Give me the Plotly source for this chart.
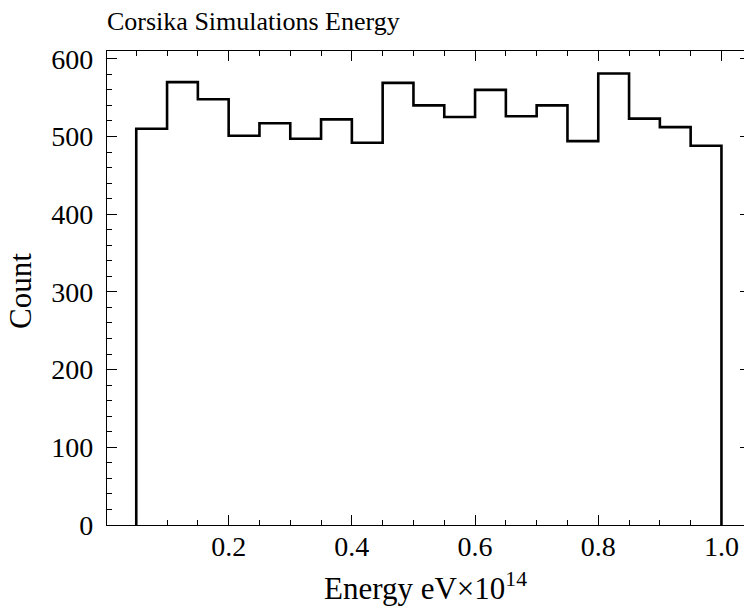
import plotly.graph_objects as go

# Histogram data (bin edges in units of 1e14 eV, counts per bin)
bin_edges = [0.05, 0.10, 0.15, 0.20, 0.25, 0.30, 0.35, 0.40, 0.45, 0.50,
             0.55, 0.60, 0.65, 0.70, 0.75, 0.80, 0.85, 0.90, 0.95, 1.00]
counts = [510, 570, 548, 501, 517, 497, 522, 492, 569, 540,
          525, 560, 526, 540, 494, 581, 523, 512, 488]

x_tick_vals = [0.2, 0.4, 0.6, 0.8, 1.0]
x_tick_text = ["0.2", "0.4", "0.6", "0.8", "1.0"]
y_tick_vals = [0, 100, 200, 300, 400, 500, 600]
y_tick_text = ["0", "100", "200", "300", "400", "500", "600"]

title_text = "Corsika Simulations Energy"
x_label = "Energy eV×10<sup>14</sup>"
y_label = "Count"

# step outline built from the histogram arrays
step_x = [bin_edges[0]] + bin_edges[:-1] + [bin_edges[-1], bin_edges[-1]]
step_y = [0] + counts + [counts[-1], 0]

FONT = "Liberation Serif"
W, H = 744, 606
ML, MT, MB = 107, 51, 81
PW, PH = W - ML, H - MT - MB

fig = go.Figure()
fig.add_trace(go.Scatter(x=step_x, y=step_y, mode="lines", line_shape="hv",
                         line=dict(color="black", width=2.6),
                         showlegend=False, hoverinfo="skip"))
fig.add_trace(go.Scatter(x=[0.5], y=[0], yaxis="y2", mode="markers",
                         marker=dict(opacity=0), showlegend=False,
                         hoverinfo="skip"))

fig.update_layout(
    width=W, height=H,
    margin=dict(l=ML, r=0, t=MT, b=MB, autoexpand=False),
    paper_bgcolor="white", plot_bgcolor="white",
    font=dict(family=FONT, size=28, color="black"),
    title=dict(text=title_text, x=0, xref="paper", xanchor="left",
               y=1 - 21 / H, yanchor="middle", yref="container",
               font=dict(family=FONT, size=26, color="black")),
    xaxis=dict(range=[0.0025, 1.0366], tickvals=x_tick_vals, ticktext=x_tick_text,
               ticks="inside", ticklen=10, tickwidth=1.3, tickcolor="black",
               showline=True, linewidth=1.3, linecolor="black", mirror="ticks",
               showgrid=False, zeroline=False, ticklabelstandoff=-4,
               tickfont=dict(family=FONT, size=28),
               minor=dict(dtick=0.05, tick0=0, ticks="inside", ticklen=5,
                          tickwidth=1.1, tickcolor="black", showgrid=False)),
    yaxis=dict(range=[0, 610], tickvals=y_tick_vals, ticktext=y_tick_text,
               ticks="inside", ticklen=10, tickwidth=1.3, tickcolor="black",
               showline=True, linewidth=1.3, linecolor="black", mirror=False,
               showgrid=False, zeroline=False, ticklabelstandoff=7,
               tickfont=dict(family=FONT, size=28),
               minor=dict(dtick=20, tick0=0, ticks="inside", ticklen=5,
                          tickwidth=1.1, tickcolor="black", showgrid=False)),
    yaxis2=dict(range=[0, 610], overlaying="y", side="right",
                tickvals=y_tick_vals, ticks="inside", ticklen=4, tickwidth=1.3,
                tickcolor="black", showticklabels=False, showline=False,
                showgrid=False, zeroline=False),
    annotations=[
        dict(text=x_label, xref="paper", yref="paper",
             x=0.5, y=(H - MB - 586) / PH, xanchor="center", yanchor="middle",
             showarrow=False, font=dict(family=FONT, size=31, color="black")),
        dict(text=y_label, xref="paper", yref="paper", textangle=-90,
             x=(20 - ML) / PW, y=(H - MB - 291) / PH, xanchor="center",
             yanchor="middle", showarrow=False,
             font=dict(family=FONT, size=31, color="black")),
    ],
)

fig.write_html(
    "out.html",
    config={"displayModeBar": False},
    post_script="document.body.style.margin='0';document.body.style.overflow='hidden';",
)
